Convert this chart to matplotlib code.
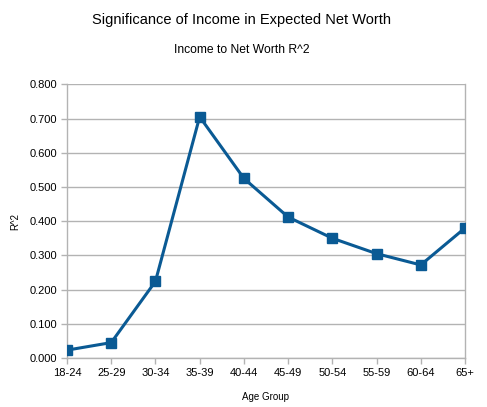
import matplotlib
matplotlib.use("Agg")
import matplotlib.pyplot as plt

categories = ["18-24", "25-29", "30-34", "35-39", "40-44", "45-49", "50-54", "55-59", "60-64", "65+"]
r2_values = [0.023, 0.045, 0.224, 0.705, 0.525, 0.412, 0.350, 0.305, 0.272, 0.380]
y_ticks = [0.0, 0.1, 0.2, 0.3, 0.4, 0.5, 0.6, 0.7, 0.8]

plt.rcParams['font.family'] = ['Liberation Sans', 'DejaVu Sans']

fig = plt.figure(figsize=(4.87, 4.07), dpi=100)
ax = fig.add_axes([67/487, 1-358/407, (465-67)/487, (358-84.3)/407])

x = list(range(len(categories)))
ax.plot(x, r2_values, color="#0a5a94", linewidth=2.2, marker="s", markersize=7.5,
        markerfacecolor="#0a5a94", markeredgecolor="#0a5a94", zorder=3)

ax.set_xlim(0, len(categories) - 1)
ax.set_ylim(0, 0.8)
ax.set_yticks(y_ticks)
ax.set_yticklabels([f"{v:.3f}" for v in y_ticks], fontsize=8)
ax.set_xticks(x)
ax.set_xticklabels(categories, fontsize=8)
ax.grid(axis="y", color="#b3b3b3", linewidth=1)
ax.set_axisbelow(True)
for s in ["left", "right", "bottom"]:
    ax.spines[s].set_color("#b3b3b3")
    ax.spines[s].set_linewidth(1)
ax.spines["top"].set_visible(False)
ax.tick_params(axis="both", color="#b3b3b3", length=4, width=1, pad=3, labelcolor="black")

ax.set_xlabel("Age Group", fontsize=7, labelpad=10)
ax.set_ylabel("R^2", fontsize=7, labelpad=7)

fig.text(0.5 * (93 + 389) / 487, 1 - 20 / 407, "Significance of Income in Expected Net Worth",
         ha="center", va="center", fontsize=10.5)
fig.text(0.5 * (173 + 310) / 487, 1 - 50 / 407, "Income to Net Worth R^2",
         ha="center", va="center", fontsize=8.7)

fig.savefig("out.png", dpi=100)
